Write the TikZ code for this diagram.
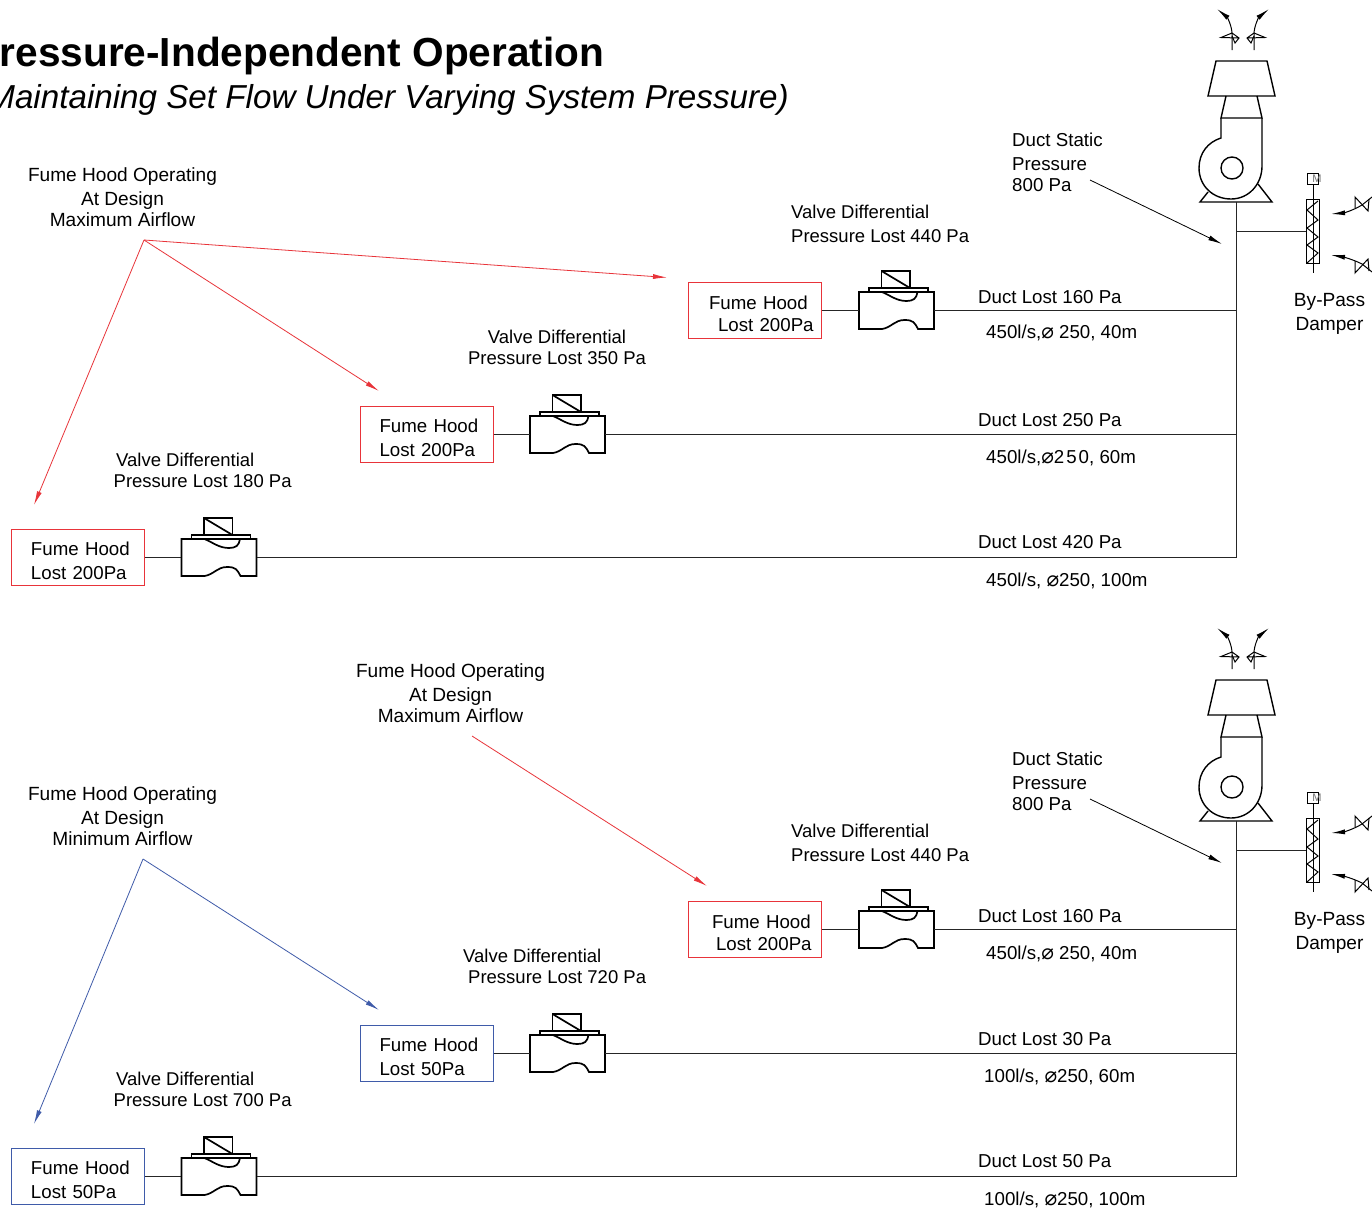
\documentclass[tikz,border=0pt]{standalone}
\usepackage{fontspec}
\setmainfont{Liberation Sans}
\newfontfamily\diafont{DejaVu Sans}
\usetikzlibrary{arrows.meta}
\newcommand{\dia}{{\diafont\fontsize{21}{21}\selectfont ⌀}}
\newcommand{\hoodpad}{\rule{0pt}{20.5pt}}
\definecolor{hoodred}{HTML}{E8343A}
\definecolor{hoodblue}{HTML}{3F5BA9}
\tikzset{
  lab/.style={inner sep=0pt,font=\fontsize{18.7}{22}\selectfont},
  opn/.style={inner sep=0pt,font=\fontsize{19.1}{22}\selectfont},
  vlab/.style={inner sep=0pt,font=\fontsize{18.5}{22}\selectfont},
  hoodbox/.style={draw=#1,line width=1pt,inner sep=0pt,minimum height=56pt,text width=133pt,align=left,font=\fontsize{18.7}{22}\selectfont,text=black},
  valvenode/.style={inner sep=0pt,minimum width=75pt,minimum height=37pt},
  duct/.style={line width=1pt,black!85},
  sym/.style={line width=1.7pt,black},
  fan sym/.style={line width=1.4pt,black},
  thin sym/.style={line width=1pt,black},
  leader/.style={line width=0.8pt,#1,-{Latex[length=14pt,width=5pt]}},
  pics/valvesym/.style={code={
    \draw[sym,line join=miter] (-37.5,-18.5) -- (37.5,-18.5) -- (37.5,18.5) -- (21.5,18.5) .. controls (18,12) and (17,9.5) .. (8,9.5) .. controls (-2,9.5) and (-5,17) .. (-14.5,18.5) -- (-37.5,18.5) -- cycle;
    \draw[sym] (-27.5,-22.5) rectangle (31.5,-18.5);
    \draw[sym] (-15,-39.5) rectangle (13.5,-22.5);
    \draw[sym] (-15,-39.5) -- (13.5,-22.5);
    \draw[sym] (-14.5,-18.5) .. controls (-6,-15) and (0,-9.5) .. (10,-9.5) .. controls (17,-9.5) and (20,-12) .. (21,-18.5);
  }},
  pics/ventarrow/.style={code={
    \draw[thin sym,-{Latex[length=14pt,width=5pt]}] (0,0) -- (0,-16) .. controls (0,-24) and (-5,-33) .. (-15,-41);
    \draw[thin sym] (0,-14) -- (3,-7) -- (7,-12) -- (0,-17) -- (-11,-12.5) -- (7,-12);
  }},
  pics/fanset/.style={code={
    \pic at (1232,50) {ventarrow};
    \pic[xscale=-1] at (1254,50) {ventarrow};
    \draw[fan sym] (1216,61) -- (1267,61) -- (1275,96) -- (1208,96) -- cycle;
    \draw[fan sym] (1226,96) -- (1221,118) -- (1262,118) -- (1257,96);
    \draw[fan sym] (1221,118) -- (1221,138) .. controls (1208,142) and (1199,153) .. (1199,168) .. controls (1199,186) and (1213,199) .. (1231,199) .. controls (1249,199) and (1262,184) .. (1262,166) -- (1262,118);
    \draw[fan sym] (1232,168) circle (11);
    \draw[fan sym] (1208,192) -- (1200,202) -- (1272,202) -- (1258,184);
    \draw[thin sym] (1306,199) rectangle (1319,263);
    \draw[thin sym] (1318,201) -- (1307,210) -- (1318,220) -- (1307,228) -- (1318,237) -- (1307,245) -- (1318,253) -- (1307,263);
    \draw[thin sym] (1313,184) -- (1313,273);
    \draw[thin sym] (1307,173) rectangle (1318,184);
    \node[inner sep=0pt,text=black!55,font=\fontsize{11}{11}\selectfont] at (1317,179) {M};
    \draw[thin sym,-{Latex[length=14pt,width=5pt]}] (1372,197) -- (1362,205) .. controls (1352,211) and (1343,213) .. (1331,214);
    \draw[thin sym] (1355,208) -- (1355,197) -- (1368,211) -- (1369,199);
    \draw[thin sym,-{Latex[length=14pt,width=5pt]}] (1372,272) -- (1362,264) .. controls (1352,259) and (1343,257) .. (1331,255);
    \draw[thin sym] (1355,261) -- (1355,273) -- (1368,259) -- (1369,271);
  }}
}
\begin{document}
\begin{tikzpicture}[x=1pt,y=-1pt]
\clip (0,0) rectangle (1372,1210);
\fill[white] (0,0) rectangle (1372,1210);

\node[inner sep=0pt,anchor=base east,font=\fontsize{40.6}{44}\selectfont\bfseries] (title) at (604.5,66) {Pressure-Independent Operation};
\node[inner sep=0pt,anchor=base east,font=\fontsize{33.2}{40}\selectfont\itshape] (subtitle) at (789,108.5) {(Maintaining Set Flow Under Varying System Pressure)};

\pic at (0,0) {fanset};
\pic at (0,619) {fanset};

% ---------- upper panel
\node[opn,align=center,anchor=north] (ta) at (122.5,167.5) {Fume Hood Operating\\[2pt]At Design\\[-1pt]Maximum Airflow};
\node[lab,align=left,anchor=north west] (tb) at (1012,133) {Duct Static\\[2pt]Pressure\\[-1pt]800 Pa};
\node[opn,align=center,anchor=north] (tc) at (1329.5,293) {By-Pass\\[2pt]Damper};

\node[vlab,align=left,anchor=north west] (vl1) at (791,205) {Valve Differential\\[2pt]Pressure Lost 440 Pa};
\node[vlab,align=center,anchor=north] (vl2) at (557,330) {Valve Differential\\[-1pt]Pressure Lost 350 Pa};
\node[vlab,align=left,anchor=north west] (vl3) at (113.5,453) {\hspace*{2.5pt}Valve Differential\\[-1pt]Pressure Lost 180 Pa};

\node[hoodbox=hoodred] (h1) at (755,310.5) {\hoodpad\hspace*{20.5pt}Fume Hood\\\hspace*{29.5pt}Lost 200Pa};
\node[hoodbox=hoodred] (h2) at (426.5,434.5) {\hoodpad\hspace*{19.5pt}Fume Hood\\[2pt]\hspace*{19.5pt}Lost 200Pa};
\node[hoodbox=hoodred] (h3) at (78,557.5) {\hoodpad\hspace*{19.5pt}Fume Hood\\[2pt]\hspace*{19.5pt}Lost 200Pa};

\node[valvenode] (v1) at (896.5,310.5) {};
\node[valvenode] (v2) at (567.5,434.5) {};
\node[valvenode] (v3) at (219,557.5) {};
\pic at (v1) {valvesym};
\pic at (v2) {valvesym};
\pic at (v3) {valvesym};

\coordinate (top1) at (1236,202);
\coordinate (m1) at (1236,310.5);
\coordinate (m2) at (1236,434.5);
\coordinate (m3) at (1236,557.5);
\coordinate (b1) at (1236,231.5);
\coordinate (d1) at (1306,231.5);
\draw[duct] (h1) -- (v1); \draw[duct] (v1) -- (m1);
\draw[duct] (h2) -- (v2); \draw[duct] (v2) -- (m2);
\draw[duct] (h3) -- (v3); \draw[duct] (v3) -- (m3);
\draw[duct] (top1) -- (m3);
\draw[duct] (b1) -- (d1);

\node[lab,anchor=base west] (dl1) at (978,303) {Duct Lost 160 Pa};
\node[lab,anchor=base west] (dl2) at (978,426) {Duct Lost 250 Pa};
\node[lab,anchor=base west] (dl3) at (978,548) {Duct Lost 420 Pa};
\node[lab,anchor=base west] (fl1) at (986,338) {450l/s,\dia\ 250, 40m};
\node[lab,anchor=base west] (fl2) at (986,463) {450l/s,\dia 2\kern2pt5\kern2pt0, 60m};
\node[lab,anchor=base west] (fl3) at (986,586) {450l/s, \dia 250, 100m};

\coordinate (s1) at (144,240);
\coordinate (e1) at (667,277.5);
\coordinate (e2) at (379,391);
\coordinate (e3) at (34,505);
\draw[leader=hoodred] (s1) -- (e1);
\draw[leader=hoodred] (s1) -- (e2);
\draw[leader=hoodred] (s1) -- (e3);
\coordinate (ps1) at (1090,180);
\coordinate (pe1) at (1222,244);
\draw[leader=black] (ps1) -- (pe1);

% ---------- lower panel
\node[opn,align=center,anchor=north] (lta) at (450.5,663.5) {Fume Hood Operating\\[2pt]At Design\\[-1pt]Maximum Airflow};
\node[opn,align=center,anchor=north] (ltm) at (122.5,786.5) {Fume Hood Operating\\[2pt]At Design\\[-1pt]Minimum Airflow};
\node[lab,align=left,anchor=north west] (ltb) at (1012,752) {Duct Static\\[2pt]Pressure\\[-1pt]800 Pa};
\node[opn,align=center,anchor=north] (ltc) at (1329.5,912) {By-Pass\\[2pt]Damper};

\node[vlab,align=left,anchor=north west] (lvl1) at (791,824) {Valve Differential\\[2pt]Pressure Lost 440 Pa};
\node[vlab,align=left,anchor=north west] (lvl2) at (463,949) {Valve Differential\\[-1pt]\hspace*{5pt}Pressure Lost 720 Pa};
\node[vlab,align=left,anchor=north west] (lvl3) at (113.5,1072) {\hspace*{2.5pt}Valve Differential\\[-1pt]Pressure Lost 700 Pa};

\node[hoodbox=hoodred] (lh1) at (755,929.5) {\hoodpad\hspace*{23.5pt}Fume Hood\\\hspace*{27.5pt}Lost 200Pa};
\node[hoodbox=hoodblue] (lh2) at (426.5,1053.5) {\hoodpad\hspace*{19.5pt}Fume Hood\\[2pt]\hspace*{19.5pt}Lost 50Pa};
\node[hoodbox=hoodblue] (lh3) at (78,1176.5) {\hoodpad\hspace*{19.5pt}Fume Hood\\[2pt]\hspace*{19.5pt}Lost 50Pa};

\node[valvenode] (lv1) at (896.5,929.5) {};
\node[valvenode] (lv2) at (567.5,1053.5) {};
\node[valvenode] (lv3) at (219,1176.5) {};
\pic at (lv1) {valvesym};
\pic at (lv2) {valvesym};
\pic at (lv3) {valvesym};

\coordinate (ltop1) at (1236,821);
\coordinate (lm1) at (1236,929.5);
\coordinate (lm2) at (1236,1053.5);
\coordinate (lm3) at (1236,1176.5);
\coordinate (lb1) at (1236,850.5);
\coordinate (ld1) at (1306,850.5);
\draw[duct] (lh1) -- (lv1); \draw[duct] (lv1) -- (lm1);
\draw[duct] (lh2) -- (lv2); \draw[duct] (lv2) -- (lm2);
\draw[duct] (lh3) -- (lv3); \draw[duct] (lv3) -- (lm3);
\draw[duct] (ltop1) -- (lm3);
\draw[duct] (lb1) -- (ld1);

\node[lab,anchor=base west] (ldl1) at (978,922) {Duct Lost 160 Pa};
\node[lab,anchor=base west] (ldl2) at (978,1045) {Duct Lost 30 Pa};
\node[lab,anchor=base west] (ldl3) at (978,1167) {Duct Lost 50 Pa};
\node[lab,anchor=base west] (lfl1) at (986,959) {450l/s,\dia\ 250, 40m};
\node[lab,anchor=base west] (lfl2) at (984,1082) {100l/s, \dia 250, 60m};
\node[lab,anchor=base west] (lfl3) at (984,1205) {100l/s, \dia 250, 100m};

\coordinate (ls0) at (472,736);
\coordinate (le0) at (707,886);
\draw[leader=hoodred] (ls0) -- (le0);
\coordinate (ls1) at (143,859);
\coordinate (le2) at (379,1010);
\coordinate (le3) at (34,1124);
\draw[leader=hoodblue] (ls1) -- (le2);
\draw[leader=hoodblue] (ls1) -- (le3);
\coordinate (lps1) at (1090,799);
\coordinate (lpe1) at (1222,863);
\draw[leader=black] (lps1) -- (lpe1);
\end{tikzpicture}
\end{document}
